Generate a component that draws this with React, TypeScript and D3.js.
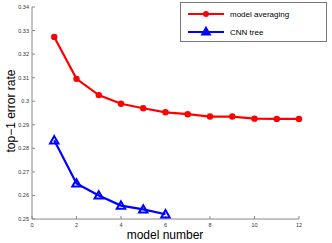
import React from "react";
import * as d3 from "d3";

const avgX = [1, 2, 3, 4, 5, 6, 7, 8, 9, 10, 11, 12];
const avgY = [0.3273, 0.3095, 0.3026, 0.2989, 0.2970, 0.2953, 0.2945, 0.2935, 0.2935, 0.2926, 0.2925, 0.2925];
const treeX = [1, 2, 3, 4, 5, 6];
const treeY = [0.2834, 0.2651, 0.2600, 0.2557, 0.2541, 0.2520];
const xTicks = [0, 2, 4, 6, 8, 10, 12];
const yTicks = [0.25, 0.26, 0.27, 0.28, 0.29, 0.3, 0.31, 0.32, 0.33, 0.34];
const seriesNames = ["model averaging", "CNN tree"];

export default function App() {
  const W = 332, H = 243;
  const x = d3.scaleLinear().domain([0, 12]).range([32, 299]);
  const y = d3.scaleLinear().domain([0.25, 0.34]).range([219, 7]);
  const line = d3.line<number>().x((d, i) => 0).y(() => 0);
  const avgPath = d3.line<[number, number]>().x(d => x(d[0])).y(d => y(d[1]))(avgX.map((v, i) => [v, avgY[i]]));
  const treePath = d3.line<[number, number]>().x(d => x(d[0])).y(d => y(d[1]))(treeX.map((v, i) => [v, treeY[i]]));
  const tri = (cx: number, cy: number, s = 4.2) =>
    `M${cx},${cy - s}L${cx + s},${cy + s * 0.75}L${cx - s},${cy + s * 0.75}Z`;
  const font = "Liberation Sans, Arial, sans-serif";
  const axisColor = "#888";
  void line;
  return (
    <svg width={W} height={H} style={{ position: "absolute", left: 0, top: 0, background: "#fff" }}>
      {/* axes */}
      <line x1={32} y1={219} x2={299} y2={219} stroke={axisColor} strokeWidth={1} />
      <line x1={32} y1={7} x2={32} y2={219} stroke={axisColor} strokeWidth={1} />
      {xTicks.map(t => (
        <g key={"x" + t}>
          <line x1={x(t)} x2={x(t)} y1={219} y2={216} stroke={axisColor} />
          <text x={x(t)} y={227} fontSize={5.5} textAnchor="middle" fontFamily={font} fill="#333">{t}</text>
        </g>
      ))}
      {yTicks.map(t => (
        <g key={"y" + t}>
          <line x1={32} x2={35} y1={y(t)} y2={y(t)} stroke={axisColor} />
          <text x={29} y={y(t) + 2} fontSize={5.5} textAnchor="end" fontFamily={font} fill="#333">{d3.format("~g")(t)}</text>
        </g>
      ))}
      <text x={165} y={239} fontSize={12} textAnchor="middle" fontFamily={font} fill="#000">model number</text>
      <text transform="translate(15,111) rotate(-90)" fontSize={12} textAnchor="middle" fontFamily={font} fill="#000">top−1 error rate</text>
      {/* series */}
      <path d={avgPath || ""} fill="none" stroke="#ff0000" strokeWidth={2.2} />
      {avgX.map((v, i) => (
        <circle key={"a" + i} cx={x(v)} cy={y(avgY[i])} r={3.2} fill="#ff0000" />
      ))}
      <path d={treePath || ""} fill="none" stroke="#0000ff" strokeWidth={2.2} />
      {treeX.map((v, i) => (
        <path key={"t" + i} d={tri(x(v), y(treeY[i]))} fill="none" stroke="#0000ff" strokeWidth={2} strokeLinejoin="miter" />
      ))}
      {/* legend */}
      <rect x={180.5} y={2.5} width={146} height={39} fill="#fff" stroke="#777" strokeWidth={1} />
      <line x1={188} x2={224} y1={14} y2={14} stroke="#ff0000" strokeWidth={2.2} />
      <circle cx={206} cy={14} r={3} fill="#ff0000" />
      <text x={230} y={17} fontSize={8} fontFamily={font} fill="#000">{seriesNames[0]}</text>
      <line x1={188} x2={224} y1={32} y2={32} stroke="#0000ff" strokeWidth={2.2} />
      <path d={tri(206, 31.5)} fill="#0000ff" stroke="#0000ff" strokeWidth={1.5} />
      <text x={230} y={35} fontSize={8} fontFamily={font} fill="#000">{seriesNames[1]}</text>
    </svg>
  );
}
